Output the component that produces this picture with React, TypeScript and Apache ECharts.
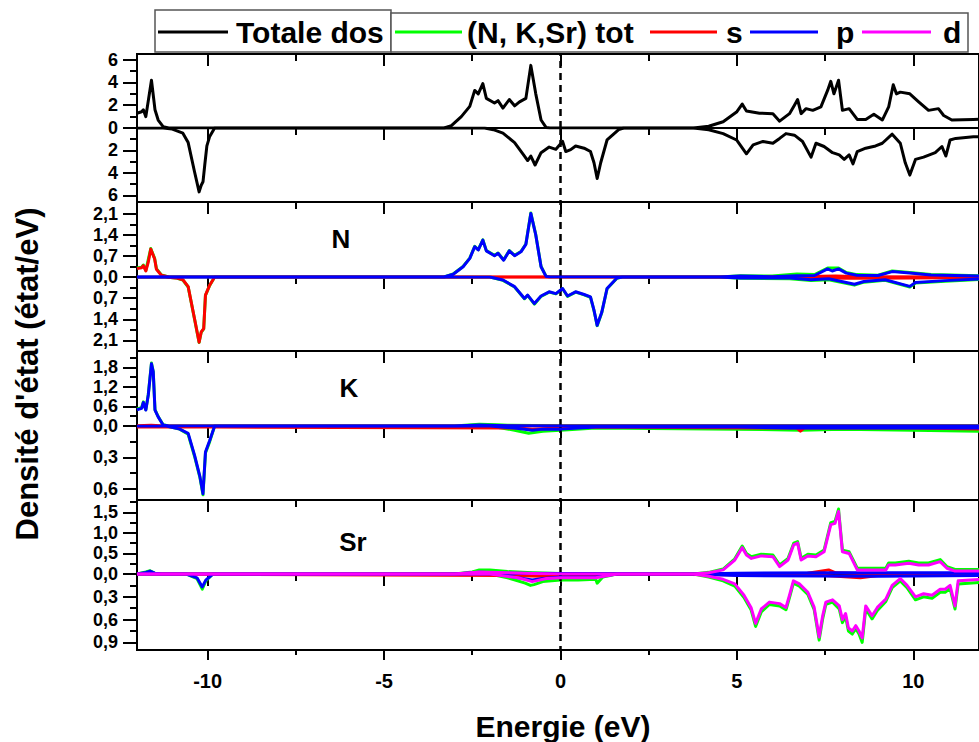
import React, { useEffect, useRef } from "react";
import * as echarts from "echarts";

// ---------- data (energy in eV, DOS in états/eV; spin-down stored as positive magnitudes) ----------
const xMajorTicks = [-10, -5, 0, 5, 10];
const xMinorTicks = [-7.5, -2.5, 2.5, 7.5];

const totUp = [[-12,1.3],[-11.87,1.43],[-11.82,1.6],[-11.75,1.0],[-11.67,2.6],[-11.59,4.2],[-11.49,1.6],[-11.4,0.7],[-11.26,0.12],[-11.1,0],
[-3.3,0],[-3.09,0.2],[-2.81,1.0],[-2.57,1.9],[-2.43,3.3],[-2.33,3.0],[-2.2,3.9],[-2.1,2.6],[-1.87,2.2],[-1.77,2.4],[-1.63,1.75],[-1.45,2.5],[-1.3,1.95],[-1.16,2.3],[-0.98,2.6],[-0.84,5.5],[-0.7,3.0],[-0.55,0.7],[-0.41,0.05],[-0.3,0],
[3.77,0],[4.2,0.15],[4.61,0.55],[4.99,1.4],[5.15,2.1],[5.27,1.5],[5.64,1.3],[6.02,1.26],[6.21,0.6],[6.49,1.26],[6.63,2.0],[6.72,2.5],[6.82,1.26],[6.96,1.7],[7.15,1.55],[7.38,1.85],[7.57,3.3],[7.66,4.1],[7.75,3.0],[7.88,4.2],[7.99,1.55],[8.18,1.7],[8.41,0.75],[8.65,0.75],[8.88,1.2],[9.12,0.7],[9.3,1.85],[9.43,3.8],[9.52,3.0],[9.63,3.15],[9.9,3.0],[10.15,2.3],[10.43,1.55],[10.71,1.7],[10.86,1.1],[11.09,0.7],[11.7,0.75],[11.9,0.78]];
const totDn = [[-12,0],[-11.26,0],[-11.0,0.1],[-10.7,0.46],[-10.55,1.3],[-10.37,3.9],[-10.24,5.7],[-10.18,5.1],[-10.13,4.8],[-10.08,3.3],[-10.02,1.6],[-9.94,0.75],[-9.8,0],
[-2.15,0],[-1.9,0.15],[-1.63,0.46],[-1.3,1.3],[-1.02,2.5],[-0.93,2.9],[-0.84,2.5],[-0.72,3.3],[-0.55,2.2],[-0.32,1.7],[-0.13,1.9],[0.06,1.2],[0.15,2.1],[0.29,1.93],[0.43,1.6],[0.67,1.8],[0.85,2.1],[0.95,3.1],[1.04,4.5],[1.14,3.1],[1.32,1.07],[1.65,0.15],[1.79,0],
[3.77,0],[4.2,0.15],[4.61,0.5],[4.99,1.07],[5.27,2.3],[5.46,1.5],[5.74,1.2],[6.02,1.36],[6.21,0.93],[6.39,0.5],[6.63,0.64],[6.86,1.2],[7.1,2.6],[7.24,1.36],[7.47,1.65],[7.71,2.2],[7.9,2.4],[8.04,2.8],[8.18,2.4],[8.29,3.2],[8.41,2.1],[8.65,1.8],[8.93,1.6],[9.12,1.36],[9.4,0.55],[9.63,1.36],[9.77,3.1],[9.9,4.2],[10.06,2.8],[10.29,2.6],[10.62,2.2],[10.81,1.65],[10.92,2.5],[11.04,1.07],[11.2,0.93],[11.7,0.78],[11.9,0.78]];

const nTotUp = [[-12,0.3],[-11.87,0.33],[-11.82,0.4],[-11.75,0.22],[-11.61,0.95],[-11.5,0.62],[-11.45,0.28],[-11.31,0.07],[-11.1,0],[-3.3,0],[-3.04,0.1],[-2.76,0.35],[-2.57,0.63],[-2.43,1.02],[-2.33,0.91],[-2.2,1.24],[-2.1,0.88],[-1.87,0.72],[-1.77,0.8],[-1.61,0.57],[-1.45,0.88],[-1.3,0.72],[-1.12,0.85],[-0.98,1.1],[-0.84,2.13],[-0.7,1.41],[-0.55,0.35],[-0.41,0.03],[-0.3,0],[4.5,0],[5.1,0.04],[6.0,0.03],[6.7,0.1],[7.2,0.08],[7.57,0.3],[7.88,0.3],[8.1,0.15],[8.4,0.08],[9.0,0.06],[9.4,0.2],[9.9,0.15],[10.5,0.08],[11.9,0.04]];
const nSUp = [[-12,0.28],[-11.87,0.31],[-11.82,0.38],[-11.75,0.2],[-11.68,0.5],[-11.61,0.93],[-11.5,0.6],[-11.45,0.26],[-11.31,0.06],[-11.1,0],[6.5,0],[7.0,0.02],[7.8,0.03],[8.5,0.01],[11.9,0]];
const nPUp = [[-12,0],[-3.3,0],[-3.04,0.09],[-2.76,0.34],[-2.57,0.62],[-2.43,1.01],[-2.33,0.9],[-2.2,1.23],[-2.1,0.87],[-1.87,0.71],[-1.77,0.79],[-1.61,0.56],[-1.45,0.87],[-1.3,0.71],[-1.12,0.84],[-0.98,1.09],[-0.84,2.12],[-0.7,1.4],[-0.55,0.34],[-0.41,0.02],[-0.3,0],[4.5,0],[5.1,0.03],[6.0,0.01],[6.7,0.04],[7.2,0.05],[7.57,0.27],[7.7,0.2],[7.88,0.27],[8.1,0.13],[8.4,0.06],[9.0,0.05],[9.4,0.18],[9.9,0.13],[10.5,0.07],[11.9,0.03]];
const nTotDn = [[-12,0],[-11.2,0],[-10.9,0.03],[-10.7,0.1],[-10.55,0.33],[-10.37,1.39],[-10.24,2.17],[-10.18,1.83],[-10.11,1.72],[-10.06,0.61],[-9.94,0.28],[-9.8,0],[-2.0,0],[-1.63,0.11],[-1.3,0.33],[-1.02,0.72],[-0.93,0.61],[-0.74,0.9],[-0.55,0.64],[-0.32,0.5],[-0.13,0.56],[0.06,0.39],[0.2,0.64],[0.43,0.5],[0.67,0.59],[0.85,0.67],[0.95,1.11],[1.04,1.61],[1.17,1.18],[1.32,0.39],[1.6,0.04],[1.75,0],[4.5,0],[5.1,0.04],[6.5,0.06],[7.1,0.12],[7.6,0.09],[8.33,0.27],[8.6,0.17],[9.2,0.11],[9.9,0.33],[10.06,0.2],[10.9,0.14],[11.9,0.08]];
const nSDn = [[-12,0],[-11.2,0],[-10.9,0.03],[-10.7,0.09],[-10.55,0.32],[-10.37,1.38],[-10.24,2.16],[-10.18,1.82],[-10.11,1.71],[-10.06,0.6],[-9.94,0.27],[-9.8,0],[6.5,0],[7.1,0.03],[8.3,0.04],[9.9,0.03],[11.9,0.02]];
const nPDn = [[-12,0],[-2.0,0],[-1.63,0.1],[-1.3,0.32],[-1.02,0.71],[-0.93,0.6],[-0.74,0.88],[-0.55,0.63],[-0.32,0.49],[-0.13,0.55],[0.06,0.38],[0.2,0.63],[0.43,0.49],[0.67,0.58],[0.85,0.66],[0.95,1.1],[1.04,1.6],[1.17,1.17],[1.32,0.38],[1.6,0.03],[1.75,0],[4.5,0],[5.1,0.03],[6.5,0.03],[7.1,0.09],[7.6,0.06],[8.33,0.24],[8.6,0.15],[9.2,0.09],[9.9,0.31],[10.06,0.18],[10.9,0.12],[11.9,0.06]];

const kTotUp = [[-12,0.52],[-11.87,0.56],[-11.82,0.74],[-11.75,0.5],[-11.68,0.97],[-11.59,1.93],[-11.54,1.68],[-11.49,0.5],[-11.4,0.29],[-11.26,0.04],[-11.1,0],[-3.0,0],[-2.3,0.05],[-1.8,0.04],[-1.5,0.02],[0,0.01],[5.0,0.01],[11.9,0.01]];
const kSUp = [[-12,0.01],[-11.6,0.02],[-11.2,0],[11.9,0]];
const kPUp = [[-12,0.5],[-11.87,0.54],[-11.82,0.72],[-11.75,0.49],[-11.68,0.95],[-11.59,1.91],[-11.54,1.66],[-11.49,0.49],[-11.4,0.28],[-11.26,0.03],[-11.1,0],[-3.0,0],[-2.3,0.03],[-1.5,0.01],[0,0],[11.9,0]];
const kTotDn = [[-12,0],[-11.17,0],[-10.79,0.03],[-10.55,0.08],[-10.37,0.29],[-10.22,0.49],[-10.13,0.66],[-10.06,0.26],[-9.94,0.15],[-9.8,0],[-2.0,0],[-1.3,0.04],[-0.9,0.07],[-0.5,0.05],[0,0.04],[1.0,0.02],[5.0,0.03],[6.8,0.04],[8.0,0.03],[10,0.04],[11.9,0.05]];
const kSDn = [[-12,0.01],[-9.8,0.01],[-1.2,0.02],[-0.8,0.03],[0.5,0.01],[6.7,0.02],[6.8,0.05],[6.9,0.02],[10.0,0.02],[11.9,0.03]];
const kPDn = [[-12,0],[-11.17,0],[-10.79,0.03],[-10.55,0.07],[-10.37,0.28],[-10.22,0.48],[-10.13,0.65],[-10.06,0.25],[-9.94,0.14],[-9.8,0],[-2.0,0],[-1.3,0.02],[-0.8,0.04],[-0.5,0.03],[0,0.03],[1.0,0.01],[5.0,0.01],[6.5,0.02],[9.9,0.02],[11.9,0.02]];

const srTotUp = [[-12,0],[-11.75,0.05],[-11.63,0.08],[-11.5,0.02],[-11.3,0],[-3,0],[-2.5,0.05],[-2.3,0.1],[-2.0,0.1],[-1.5,0.06],[-0.8,0.03],[0,0.01],[3.77,0],[4.2,0.04],[4.61,0.12],[4.94,0.37],[5.15,0.68],[5.27,0.5],[5.41,0.42],[5.69,0.48],[6.02,0.46],[6.21,0.22],[6.45,0.38],[6.61,0.75],[6.72,0.79],[6.82,0.38],[7.01,0.48],[7.24,0.46],[7.47,0.58],[7.66,1.25],[7.78,1.28],[7.88,1.58],[7.99,0.58],[8.18,0.54],[8.41,0.14],[9.22,0.14],[9.3,0.27],[9.49,0.27],[9.87,0.31],[10.15,0.27],[10.43,0.27],[10.76,0.35],[10.95,0.18],[11.18,0.11],[11.9,0.11]];
const srSUp = [[-12,0],[6.5,0],[7.0,0.02],[7.6,0.1],[7.8,0.03],[8.5,0.01],[11.9,0]];
const srPUp = [[-12,0],[-11.75,0.04],[-11.63,0.07],[-11.5,0.02],[-11.3,0],[-3,0],[-2.3,0.04],[-1.5,0.02],[0,0.01],[3.8,0],[5,0.02],[8,0.03],[11.9,0.03]];
const srDUp = [[-12,0],[-3,0],[-2.3,0.05],[-1.5,0.03],[-0.8,0.01],[0,0],[3.77,0],[4.2,0.03],[4.61,0.1],[4.94,0.34],[5.15,0.64],[5.27,0.46],[5.41,0.38],[5.69,0.44],[6.02,0.42],[6.21,0.18],[6.45,0.34],[6.61,0.71],[6.72,0.75],[6.82,0.34],[7.01,0.44],[7.24,0.42],[7.47,0.54],[7.66,1.2],[7.78,1.23],[7.88,1.52],[7.99,0.54],[8.18,0.5],[8.41,0.1],[9.22,0.1],[9.3,0.22],[9.49,0.22],[9.87,0.26],[10.15,0.22],[10.43,0.22],[10.76,0.3],[10.95,0.14],[11.18,0.07],[11.9,0.07]];
const srTotDn = [[-12,0],[-10.6,0],[-10.3,0.06],[-10.15,0.2],[-10.05,0.09],[-9.85,0],[-2,0],[-1.5,0.05],[-1.0,0.12],[-0.85,0.15],[-0.75,0.14],[-0.5,0.1],[0,0.08],[0.5,0.08],[1.0,0.07],[1.04,0.12],[1.2,0.04],[1.6,0],[3.77,0],[4.2,0.04],[4.61,0.09],[4.94,0.16],[5.2,0.31],[5.4,0.47],[5.53,0.69],[5.69,0.5],[5.92,0.4],[6.21,0.42],[6.39,0.47],[6.49,0.31],[6.6,0.12],[6.77,0.16],[7.01,0.27],[7.19,0.47],[7.33,0.87],[7.43,0.59],[7.52,0.4],[7.71,0.37],[7.9,0.46],[7.99,0.64],[8.08,0.56],[8.16,0.75],[8.27,0.79],[8.37,0.72],[8.46,0.79],[8.55,0.9],[8.65,0.46],[8.83,0.59],[8.98,0.48],[9.22,0.36],[9.4,0.18],[9.63,0.09],[9.82,0.18],[10.06,0.34],[10.29,0.3],[10.53,0.32],[10.76,0.24],[10.9,0.24],[11.04,0.19],[11.18,0.46],[11.27,0.13],[11.9,0.11]];
const srSDn = [[-12,0],[-1.5,0.02],[-0.5,0.03],[0.5,0.02],[1.5,0],[7.5,0.02],[8.5,0.05],[9,0.02],[11.9,0.01]];
const srPDn = [[-12,0],[-10.6,0],[-10.3,0.05],[-10.15,0.17],[-10.05,0.08],[-9.85,0],[-1.8,0],[-1.2,0.05],[-0.8,0.08],[-0.5,0.06],[0,0.04],[1.0,0.04],[1.6,0],[3.8,0],[5,0.02],[9,0.03],[11.9,0.02]];
const srDDn = [[-12,0],[-2,0],[-1.2,0.05],[-0.8,0.1],[-0.4,0.06],[0,0.05],[1.0,0.05],[1.6,0],[3.77,0],[4.2,0.03],[4.61,0.07],[4.94,0.13],[5.2,0.28],[5.4,0.44],[5.53,0.65],[5.69,0.46],[5.92,0.37],[6.21,0.39],[6.39,0.44],[6.49,0.28],[6.6,0.09],[6.77,0.13],[7.01,0.24],[7.19,0.44],[7.33,0.83],[7.43,0.55],[7.52,0.37],[7.71,0.34],[7.9,0.42],[7.99,0.6],[8.08,0.52],[8.16,0.71],[8.27,0.75],[8.37,0.68],[8.46,0.75],[8.55,0.84],[8.65,0.42],[8.83,0.55],[8.98,0.44],[9.22,0.33],[9.4,0.15],[9.63,0.06],[9.82,0.15],[10.06,0.3],[10.29,0.26],[10.53,0.28],[10.76,0.2],[10.9,0.2],[11.04,0.15],[11.18,0.42],[11.27,0.09],[11.9,0.07]];

const upTicks1 = [0, 2, 4, 6], upMinor1 = [1, 3, 5], dnTicks1 = [2, 4, 6], dnMinor1 = [1, 3, 5];
const upTicksN = [0, 0.7, 1.4, 2.1], upMinorN = [0.35, 1.05, 1.75], dnTicksN = [0.7, 1.4, 2.1], dnMinorN = [0.35, 1.05, 1.75];
const upTicksK = [0, 0.6, 1.2, 1.8], upMinorK = [0.3, 0.9, 1.5, 2.1], dnTicksK = [0.3, 0.6], dnMinorK = [0.15, 0.45];
const upTicksSr = [0, 0.5, 1.0, 1.5], upMinorSr = [0.25, 0.75, 1.25, 1.75], dnTicksSr = [0.3, 0.6, 0.9], dnMinorSr = [0.15, 0.45, 0.75];

// ---------- styling ----------
const FONT = '"Liberation Sans", Arial, Helvetica, sans-serif';
const GREEN = "#00ff00", RED = "#ff0000", BLUE = "#0000ff", MAGENTA = "#ff00ff", BLACK = "#000000";
const E_MIN = -12, E_MAX = 11.86;
const PANEL_TOP = [54, 202, 351, 500];
const PANEL_ZERO = [128, 277, 426, 574];
const PANEL_BOTTOM = [202, 351, 500, 650];

export default function App() {
  const ref = useRef<HTMLDivElement>(null);

  useEffect(() => {
    if (!ref.current) return;
    const chart = echarts.init(ref.current, null, { renderer: "svg" });

    const panels = [
      { label: "", up: [[BLACK, totUp]], dn: [[BLACK, totDn]], upMax: 6.5, dnMax: 6.6, upT: upTicks1, upM: upMinor1, dnT: dnTicks1, dnM: dnMinor1, dec: 0 },
      { label: "N", up: [[GREEN, nTotUp], [RED, nSUp], [BLUE, nPUp]], dn: [[GREEN, nTotDn], [RED, nSDn], [BLUE, nPDn]], upMax: 2.5, dnMax: 2.45, upT: upTicksN, upM: upMinorN, dnT: dnTicksN, dnM: dnMinorN, dec: 1 },
      { label: "K", up: [[GREEN, kTotUp], [RED, kSUp], [BLUE, kPUp]], dn: [[GREEN, kTotDn], [RED, kSDn], [BLUE, kPDn]], upMax: 2.3, dnMax: 0.71, upT: upTicksK, upM: upMinorK, dnT: dnTicksK, dnM: dnMinorK, dec: 1 },
      { label: "Sr", up: [[GREEN, srTotUp], [RED, srSUp], [BLUE, srPUp], [MAGENTA, srDUp]], dn: [[GREEN, srTotDn], [RED, srSDn], [BLUE, srPDn], [MAGENTA, srDDn]], upMax: 1.8, dnMax: 1.0, upT: upTicksSr, upM: upMinorSr, dnT: dnTicksSr, dnM: dnMinorSr, dec: 1 },
    ];

    const grids: any[] = [];
    const xAxes: any[] = [];
    const yAxes: any[] = [];
    const series: any[] = [];

    const xAxisBase = (gi: number, pos: string, inside: boolean, len: number, vals: number[], labels: boolean) => ({
      type: "value", gridIndex: gi, min: E_MIN, max: E_MAX, position: pos,
      axisLine: { show: false, onZero: false },
      axisTick: { show: true, inside, length: len, customValues: vals, lineStyle: { color: BLACK, width: 2 } },
      axisLabel: labels
        ? { show: true, customValues: vals, margin: 21, fontSize: 20, fontWeight: "bold", fontFamily: FONT, color: BLACK,
            showMinLabel: true, showMaxLabel: true, hideOverlap: false, formatter: (v: number) => String(v) }
        : { show: false },
      splitLine: { show: false },
    });

    const yAxisBase = (gi: number, max: number, inverse: boolean, len: number, vals: number[], labels: boolean, dec: number) => ({
      type: "value", gridIndex: gi, min: 0, max, inverse, position: "left",
      axisLine: { show: false, onZero: false },
      axisTick: { show: true, inside: false, length: len, customValues: vals, lineStyle: { color: BLACK, width: 2 } },
      axisLabel: labels
        ? { show: true, customValues: vals, margin: 19, fontSize: 18, lineHeight: 15, fontWeight: "bold", fontFamily: FONT, color: BLACK,
            showMinLabel: true, showMaxLabel: true, hideOverlap: false,
            formatter: (v: number) => (dec === 0 ? String(Math.round(v)) : v.toFixed(1).replace(".", ",")) }
        : { show: false },
      splitLine: { show: false },
    });

    panels.forEach((p, pi) => {
      const halves = [
        { top: PANEL_TOP[pi], height: PANEL_ZERO[pi] - PANEL_TOP[pi], max: p.upMax, inv: false, T: p.upT, M: p.upM, lines: p.up },
        { top: PANEL_ZERO[pi], height: PANEL_BOTTOM[pi] - PANEL_ZERO[pi], max: p.dnMax, inv: true, T: p.dnT, M: p.dnM, lines: p.dn },
      ];
      halves.forEach((h) => {
        const gi = grids.length;
        grids.push({ left: 137, right: -5, top: h.top, height: h.height, show: true, borderColor: BLACK, borderWidth: 2, backgroundColor: "transparent" });
        xAxes.push(xAxisBase(gi, "top", true, 12, xMajorTicks, false));
        xAxes.push(xAxisBase(gi, "top", true, 7, xMinorTicks, false));
        yAxes.push(yAxisBase(gi, h.max, h.inv, 14, h.T, true, p.dec));
        yAxes.push(yAxisBase(gi, h.max, h.inv, 7, h.M, false, p.dec));
        h.lines.forEach((ln: any, li: number) => {
          const s: any = {
            type: "line", xAxisIndex: 2 * gi, yAxisIndex: 2 * gi, data: ln[1],
            showSymbol: false, symbol: "none", smooth: false,
            lineStyle: { color: ln[0], width: 3, join: "round" }, itemStyle: { color: ln[0] },
            z: 3 + li,
          };
          if (li === 0) {
            s.markLine = {
              silent: true, symbol: ["none", "none"], label: { show: false }, animation: false,
              lineStyle: { color: BLACK, type: [7, 5], width: 2.5 },
              data: [{ xAxis: 0 }],
            };
          }
          series.push(s);
        });
      });
    });
    // bottom labelled axis of the last grid
    const last = grids.length - 1;
    xAxes.push(xAxisBase(last, "bottom", false, 10, xMajorTicks, true));
    xAxes.push(xAxisBase(last, "bottom", false, 5, xMinorTicks, false));

    const txt = (text: string, x: number, y: number, size: number, extra: any = {}) => ({
      type: "text", x, y, z: 100, rotation: extra.rotation || 0,
      style: { text, fontSize: size, fontWeight: "bold", fontFamily: FONT, fill: BLACK, textAlign: extra.align || "left", textVerticalAlign: "middle" },
    });
    const legLine = (x1: number, x2: number, color: string) => ({
      type: "line", z: 100, shape: { x1, y1: 32, x2, y2: 32 }, style: { stroke: color, lineWidth: 3 },
    });

    const graphic: any[] = [
      { type: "rect", z: 99, shape: { x: 155, y: 10, width: 236, height: 42 }, style: { fill: "#fff", stroke: "#555", lineWidth: 1.5 } },
      { type: "rect", z: 99, shape: { x: 391, y: 13, width: 577, height: 39 }, style: { fill: "#fff", stroke: "#555", lineWidth: 1.5 } },
      legLine(158, 228, BLACK), txt("Totale dos", 236, 32, 30),
      legLine(395, 462, GREEN), txt("(N, K,Sr) tot", 467, 32, 30),
      legLine(650, 717, RED), txt("s", 726, 32, 30),
      legLine(750, 818, BLUE), txt("p", 836, 32, 30),
      legLine(862, 931, MAGENTA), txt("d", 943, 32, 30),
      txt("N", 341, 239, 26, { align: "center" }),
      txt("K", 349, 388, 26, { align: "center" }),
      txt("Sr", 353, 542, 26, { align: "center" }),
      txt("Energie (eV)", 563, 726, 30, { align: "center" }),
      txt("Densité d'état (état/eV)", 27, 374, 31, { align: "center", rotation: Math.PI / 2 }),
    ];

    chart.setOption({
      animation: false,
      backgroundColor: "#ffffff",
      grid: grids,
      xAxis: xAxes,
      yAxis: yAxes,
      series,
      graphic,
    });

    return () => chart.dispose();
  }, []);

  return <div ref={ref} style={{ position: "fixed", left: 0, top: 0, width: 979, height: 742, background: "#fff" }} />;
}
